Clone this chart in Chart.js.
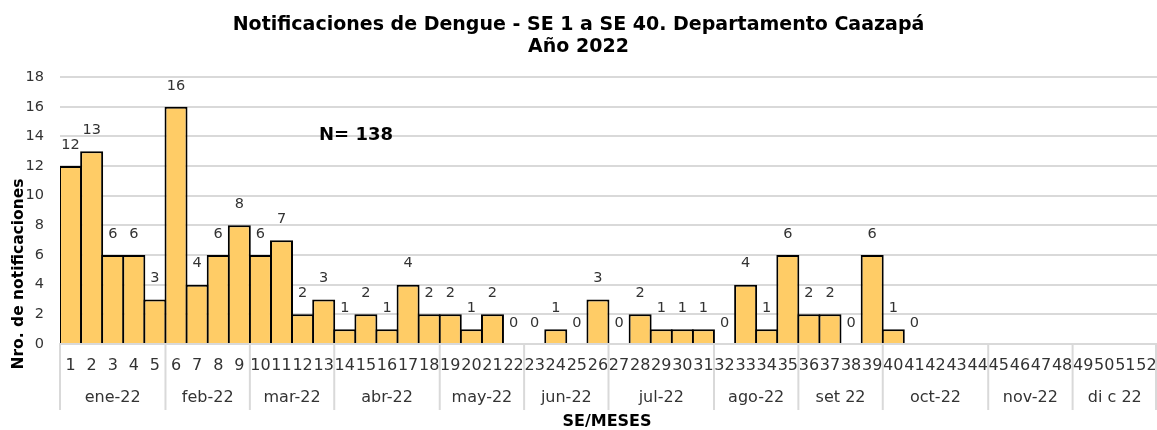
<!DOCTYPE html>
<html>
<head>
<meta charset="utf-8">
<script src="https://cdn.jsdelivr.net/npm/chart.js@4"></script>
<style>
  body { margin: 0; background: #fff; }
  canvas { display: block; }
</style>
</head>
<body>
<canvas id="chart" width="1157" height="430"></canvas>
<script>
let semanas = [];
for (let i = 1; i <= 52; i++) semanas.push(String(i));

// casos por semana epidemiologica (SE 41 = 0, sin datos desde SE 42)
let casos = [12, 13, 6, 6, 3, 16, 4, 6, 8, 6, 7, 2, 3, 1, 2, 1, 4, 2, 2, 1, 2, 0,
  0, 1, 0, 3, 0, 2, 1, 1, 1, 0, 4, 1, 6, 2, 2, 0, 6, 1, 0,
  null, null, null, null, null, null, null, null, null, null, null];

let meses = ["ene-22", "feb-22", "mar-22", "abr-22", "may-22", "jun-22",
  "jul-22", "ago-22", "set 22", "oct-22", "nov-22", "di c 22"];
let semanasPorMes = [5, 4, 4, 5, 4, 4, 5, 4, 4, 5, 4, 4];

let yTicks = [0, 2, 4, 6, 8, 10, 12, 14, 16, 18];

const FONT = "'DejaVu Sans', Verdana, sans-serif";
const GRID = "#d9d9d9";

// etiquetas de valores, meses, separadores y textos sueltos
const extras = {
  id: "extras",
  afterDatasetsDraw(chart) {
    const c = chart.ctx;
    const area = chart.chartArea;
    const meta = chart.getDatasetMeta(0);
    c.save();
    c.fillStyle = "#333";
    c.font = "14.5px " + FONT;
    c.textAlign = "center";
    c.textBaseline = "middle";
    meta.data.forEach((bar, i) => {
      if (casos[i] === null) return;
      c.fillText(String(casos[i]), bar.x, bar.y - 21);
    });

    // separadores y meses
    const catW = (area.right - area.left) / semanas.length;
    c.strokeStyle = GRID;
    c.lineWidth = 2;
    let acum = 0;
    const bordes = [0];
    semanasPorMes.forEach((n) => { acum += n; bordes.push(acum); });
    bordes.forEach((b) => {
      let x = Math.min(area.left + b * catW, chart.width - 1);
      c.beginPath();
      c.moveTo(x, area.bottom);
      c.lineTo(x, area.bottom + 66);
      c.stroke();
    });
    c.font = "16px " + FONT;
    c.fillStyle = "#333";
    meses.forEach((m, i) => {
      const x = area.left + ((bordes[i] + bordes[i + 1]) / 2) * catW;
      c.fillText(m, x, 398);
    });

    c.fillStyle = "#000";
    c.font = "bold 18px " + FONT;
    c.fillText("N= 138", 356, 135);

    c.font = "bold 16px " + FONT;
    c.fillText("SE/MESES", 607, 422);

    c.translate(19, 274);
    c.rotate(-Math.PI / 2);
    c.font = "bold 15.5px " + FONT;
    c.fillText("Nro. de notificaciones", 0, 0);
    c.restore();
  },
};

new Chart(document.getElementById("chart"), {
  type: "bar",
  data: {
    labels: semanas,
    datasets: [
      {
        data: casos,
        backgroundColor: "#FFCC66",
        borderColor: "#000",
        borderWidth: 2,
        barPercentage: 1.09,
        categoryPercentage: 1,
      },
    ],
  },
  options: {
    responsive: false,
    animation: false,
    devicePixelRatio: 1,
    layout: { padding: 0 },
    plugins: {
      legend: { display: false },
      tooltip: { enabled: false },
      title: {
        display: true,
        text: ["Notificaciones de Dengue - SE 1 a SE 40. Departamento Caazapá", "Año 2022"],
        color: "#000",
        font: { family: FONT, size: 19, weight: "bold", lineHeight: 1.16 },
        padding: { top: 14, bottom: 19 },
      },
    },
    scales: {
      x: {
        offset: true,
        grid: { display: false, drawTicks: false },
        border: { color: GRID, width: 2 },
        ticks: {
          autoSkip: false,
          maxRotation: 0,
          minRotation: 0,
          color: "#333",
          padding: 12,
          font: { family: FONT, size: 16 },
        },
        afterFit(s) {
          s.height = 86;
          s.paddingLeft = 0;
          s.paddingRight = 0;
        },
      },
      y: {
        min: 0,
        max: 18,
        afterBuildTicks(s) { s.ticks = yTicks.map((v) => ({ value: v })); },
        grid: { color: GRID, lineWidth: 2, drawTicks: false },
        border: { display: false },
        ticks: {
          color: "#333",
          padding: 16,
          font: { family: FONT, size: 14.5 },
        },
        afterFit(s) { s.width = 60; },
      },
    },
  },
  plugins: [extras],
});
</script>
</body>
</html>
